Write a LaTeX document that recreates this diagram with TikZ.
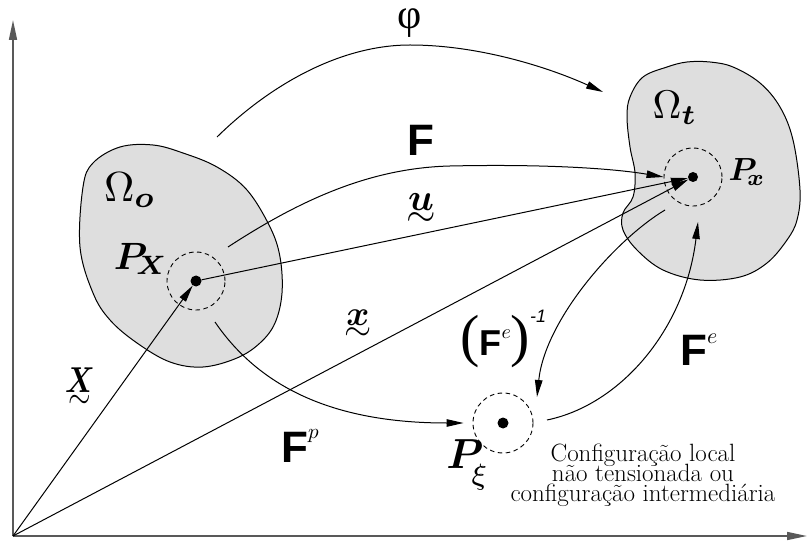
\documentclass[tikz,border=0pt]{standalone}
\usepackage{amsmath}
\usepackage{bm}
\usepackage{fontspec}
\newfontfamily\helv{Liberation Sans}
\newfontfamily\tmsr{Liberation Serif}
\usetikzlibrary{arrows.meta}
\newcommand{\tvec}[1]{\vbox{\offinterlineskip\halign{\hfil##\hfil\cr$\bm{#1}$\cr\noalign{\kern0.6pt}$\sim$\cr}}}
\newcommand{\fsz}[1]{\fontsize{#1}{#1}\selectfont}
\newcommand{\bigF}{{\helv\bfseries\fsz{44}F}}
\begin{document}
\begin{tikzpicture}[x=1pt,y=-1pt,
  blob/.style={draw=black, fill=black!13, line width=1pt},
  dcirc/.style={circle, draw, dash pattern=on 4.5pt off 3.5pt, line width=0.9pt, inner sep=0pt, minimum size=58pt},
  dot/.style={circle, fill=black, inner sep=0pt, minimum size=11pt},
  conn/.style={line width=1pt, -{Triangle[length=17pt,width=7.5pt]}},
  axisline/.style={line width=1.6pt, black!65, -{Triangle[length=20pt,width=8pt]}},
  lbl/.style={inner sep=0pt}
]
\useasboundingbox (0,0) rectangle (808,545);

% bodies
\draw[blob] plot[smooth cycle, tension=0.6] coordinates {
  (120,147) (153,145) (183,153) (217,167) (247,190) (270,227) (280,257)
  (282,293) (275,323) (260,343) (237,358) (203,367) (170,362) (137,343)
  (110,320) (93,293) (80,247) (83,187) (93,163)};
\draw[blob] plot[smooth cycle, tension=0.6] coordinates {
  (710,62) (733,67) (760,83) (780,107) (793,140) (800,190) (797,220)
  (787,240) (767,263) (740,277) (700,280) (663,270) (637,250) (623,230)
  (623,213) (633,197) (635,173) (630,147) (627,117) (630,97) (643,77)
  (667,67) (687,62)};

% axes
\coordinate (O) at (13,536);
\coordinate (ytop) at (13,20);
\coordinate (xend) at (807,536);
\draw[axisline] (O) -- (ytop);
\draw[axisline] (O) -- (xend);

% points
\node[dcirc] (cPX) at (196,281) {};
\node[dot] (PX) at (196,281) {};
\node[dcirc] (cPx) at (693,177) {};
\node[dot, minimum size=10pt] (Px) at (693,177) {};
\node[dcirc, minimum size=60pt] (cPxi) at (503,423) {};
\node[dot] (Pxi) at (503,423) {};

% free ends
\coordinate (phiS) at (217,137);
\coordinate (phiE) at (603,92);
\coordinate (FS) at (228,247);
\coordinate (FpS) at (215,322);
\coordinate (FeiS) at (665,210);
\coordinate (FeiE) at (537,397);
\coordinate (FeS) at (547,420);
\coordinate (FeE) at (698,222);

% connectors
\draw[conn] (phiS) .. controls (270,85) and (340,45) .. (410,45)
            .. controls (480,45) and (550,68) .. (phiE);
\draw[conn] (FS) .. controls (300,200) and (370,168) .. (450,166)
            .. controls (540,164) and (610,168) .. (cPx.west);
\draw[conn] (PX) -- (Px);
\draw[conn] (O) -- (Px);
\draw[conn] (O) -- (PX);
\draw[conn, shorten >=9pt] (FpS) .. controls (258,385) and (330,423) .. (cPxi.west);
\draw[conn] (FeiS) .. controls (615,240) and (545,320) .. (FeiE);
\draw[conn] (FeS) .. controls (620,405) and (685,330) .. (FeE);

% labels
\node[lbl] (lphi) at (410,23) {\tmsr\fsz{42}φ};
\node[lbl] (lOo) at (130,190) {\scalebox{4.2}{$\Omega_{\bm o}$}};
\node[lbl] (lOt) at (675,108) {\scalebox{4.0}{$\Omega_{\bm t}$}};
\node[lbl] (lPX) at (141,259) {\scalebox{3.8}{$\bm{P}_{\!\bm X}$}};
\node[lbl] (lPx) at (747,172) {\scalebox{3.2}{$\bm{P}_{\!\bm x}$}};
\node[lbl] (lPxi) at (468,465) {\scalebox{4.2}{$\bm{P}_{\!\raisebox{-2.5pt}{$\scriptstyle\xi$}}$}};
\node[lbl] (lu) at (421,210) {\scalebox{3.8}{\tvec{u}}};
\node[lbl] (lx) at (358,325) {\scalebox{3.5}{\tvec{x}}};
\node[lbl] (lX) at (80,388) {\scalebox{2.9}[3.6]{\tvec{X}}};
\node[lbl] (lF) at (421,140) {\bigF};
\node[lbl, anchor=base west] (lFp) at (281,462) {\bigF\raisebox{24pt}{\scalebox{2.1}{$p$}}};
\node[lbl, anchor=base west] (lFe) at (680,365) {\bigF\raisebox{22pt}{\scalebox{2.2}{$e$}}};
\node[lbl, anchor=base west] (lFei) at (460,355) {{\tmsr\fsz{58}(}{\helv\bfseries\fsz{36}F}\raisebox{17pt}{\scalebox{2.0}{$e$}}{\tmsr\fsz{58})}\raisebox{33pt}{\helv\itshape\fsz{18}-1}};
\node[lbl] (txt) at (643,475) {\parbox{300pt}{\centering\fontsize{25}{20}\selectfont\lineskiplimit=-100pt
  Configuração local\\ não tensionada ou\\ configuração intermediária}};
\end{tikzpicture}
\end{document}
